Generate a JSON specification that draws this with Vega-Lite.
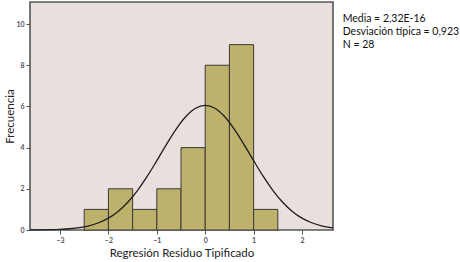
{
  "$schema": "https://vega.github.io/schema/vega-lite/v6.json",
  "width": 303,
  "height": 228,
  "autosize": {"type": "none"},
  "padding": {"left": 30, "top": 2, "right": 127, "bottom": 32},
  "background": "white",
  "config": {
    "view": {"fill": "#E9DFDD", "stroke": "#555555", "strokeWidth": 1.6},
    "font": "Lato",
    "axis": {"grid": false, "domain": false, "labelFontSize": 7, "labelFontWeight": "bold", "labelColor": "#555555", "tickColor": "#555555", "tickSize": 4, "titleFontWeight": "normal", "titleColor": "#222222", "titleFontSize": 11.5}
  },
  "datasets": {
    "bins": [
      {"bin_start": -2.5, "bin_end": -2.0, "count": 1},
      {"bin_start": -2.0, "bin_end": -1.5, "count": 2},
      {"bin_start": -1.5, "bin_end": -1.0, "count": 1},
      {"bin_start": -1.0, "bin_end": -0.5, "count": 2},
      {"bin_start": -0.5, "bin_end": 0.0, "count": 4},
      {"bin_start": 0.0, "bin_end": 0.5, "count": 8},
      {"bin_start": 0.5, "bin_end": 1.0, "count": 9},
      {"bin_start": 1.0, "bin_end": 1.5, "count": 1}
    ],
    "curve": [
      {"x": -3.62, "y": 0.003},
      {"x": -3.4, "y": 0.007},
      {"x": -3.2, "y": 0.015},
      {"x": -3.0, "y": 0.031},
      {"x": -2.8, "y": 0.061},
      {"x": -2.6, "y": 0.114},
      {"x": -2.4, "y": 0.206},
      {"x": -2.2, "y": 0.353},
      {"x": -2.0, "y": 0.578},
      {"x": -1.8, "y": 0.904},
      {"x": -1.6, "y": 1.347},
      {"x": -1.4, "y": 1.915},
      {"x": -1.2, "y": 2.599},
      {"x": -1.0, "y": 3.365},
      {"x": -0.8, "y": 4.156},
      {"x": -0.6, "y": 4.899},
      {"x": -0.4, "y": 5.509},
      {"x": -0.2, "y": 5.911},
      {"x": 0.0, "y": 6.051},
      {"x": 0.2, "y": 5.911},
      {"x": 0.4, "y": 5.509},
      {"x": 0.6, "y": 4.899},
      {"x": 0.8, "y": 4.156},
      {"x": 1.0, "y": 3.365},
      {"x": 1.2, "y": 2.599},
      {"x": 1.4, "y": 1.915},
      {"x": 1.6, "y": 1.347},
      {"x": 1.8, "y": 0.904},
      {"x": 2.0, "y": 0.578},
      {"x": 2.2, "y": 0.353},
      {"x": 2.4, "y": 0.206},
      {"x": 2.64, "y": 0.105}
    ]
  },
  "layer": [
    {
      "data": {"name": "bins"},
      "mark": {"type": "bar", "fill": "#BDB16C", "stroke": "#3a3a3a", "strokeWidth": 1},
      "encoding": {
        "x": {"field": "bin_start", "type": "quantitative", "scale": {"domain": [-3.62, 2.64], "nice": false, "zero": false}, "axis": {"values": [-3, -2, -1, 0, 1, 2], "title": "Regresión Residuo Tipificado", "titlePadding": 4}},
        "x2": {"field": "bin_end"},
        "y": {"field": "count", "type": "quantitative", "scale": {"domain": [0, 11.07], "nice": false}, "axis": {"values": [0, 2, 4, 6, 8, 10], "title": "Frecuencia", "titlePadding": 0}},
        "y2": {"datum": 0}
      }
    },
    {
      "data": {"name": "curve"},
      "mark": {"type": "line", "color": "#1e1e1e", "strokeWidth": 1.3, "interpolate": "monotone"},
      "encoding": {
        "x": {"field": "x", "type": "quantitative"},
        "y": {"field": "y", "type": "quantitative"}
      }
    },
    {
      "data": {"values": [{"t": "Media = 2,32E-16\nDesviación típica = 0,923\nN = 28"}]},
      "mark": {"type": "text", "align": "left", "baseline": "top", "lineBreak": "\n", "fontSize": 10.5, "lineHeight": 13, "color": "#111111", "clip": false},
      "encoding": {
        "x": {"datum": 2.84},
        "y": {"datum": 10.5},
        "text": {"field": "t"}
      }
    }
  ]
}
